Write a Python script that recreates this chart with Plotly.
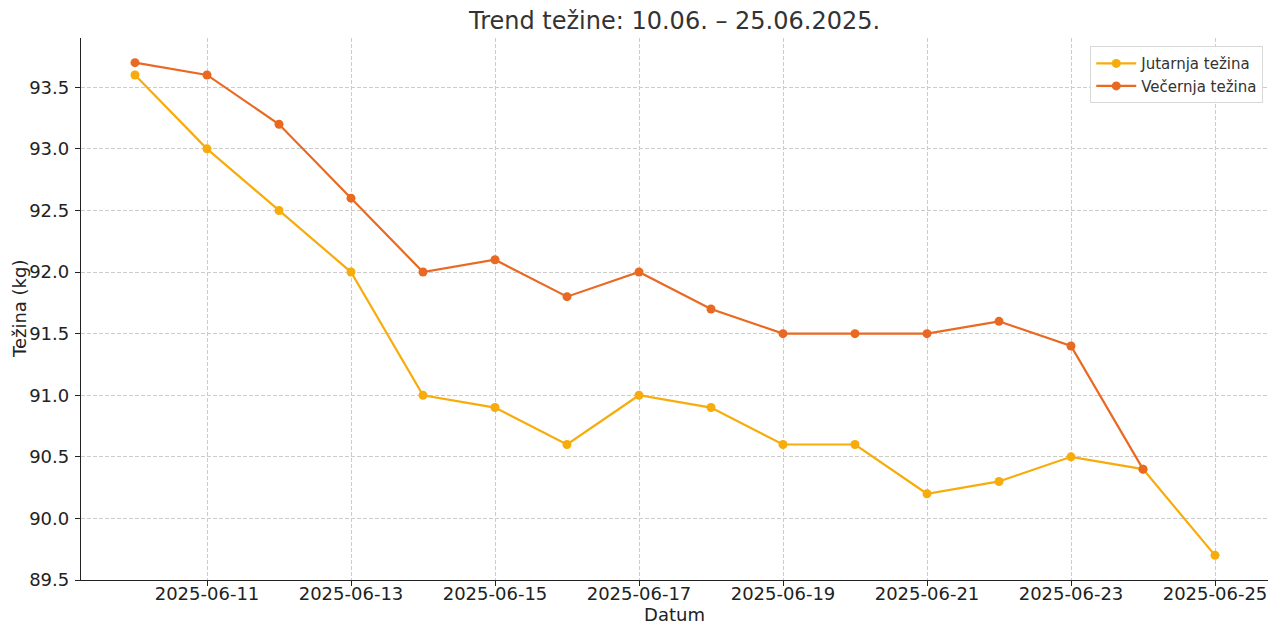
import plotly.graph_objects as go

dates = ["2025-06-10", "2025-06-11", "2025-06-12", "2025-06-13", "2025-06-14", "2025-06-15",
         "2025-06-16", "2025-06-17", "2025-06-18", "2025-06-19", "2025-06-20", "2025-06-21",
         "2025-06-22", "2025-06-23", "2025-06-24", "2025-06-25"]
jutarnja = [93.6, 93.0, 92.5, 92.0, 91.0, 90.9, 90.6, 91.0, 90.9, 90.6, 90.6, 90.2, 90.3, 90.5, 90.4, 89.7]
vecernja = [93.7, 93.6, 93.2, 92.6, 92.0, 92.1, 91.8, 92.0, 91.7, 91.5, 91.5, 91.5, 91.6, 91.4, 90.4, None]
x_ticks = ["2025-06-11", "2025-06-13", "2025-06-15", "2025-06-17", "2025-06-19", "2025-06-21", "2025-06-23", "2025-06-25"]
y_ticks = [89.5, 90.0, 90.5, 91.0, 91.5, 92.0, 92.5, 93.0, 93.5]

C_J = "#F7AC0B"
C_V = "#EA6922"
FONT = "DejaVu Sans"

fig = go.Figure()
fig.add_trace(go.Scatter(x=dates, y=jutarnja, mode="lines+markers", name="Jutarnja težina",
                         line=dict(color=C_J, width=2.2), marker=dict(color=C_J, size=9)))
fig.add_trace(go.Scatter(x=dates, y=vecernja, mode="lines+markers", name="Večernja težina",
                         line=dict(color=C_V, width=2.2), marker=dict(color=C_V, size=9)))

fig.update_layout(
    width=1280, height=638,
    margin=dict(l=81, r=12, t=38, b=58),
    plot_bgcolor="white", paper_bgcolor="white",
    font=dict(family=FONT, color="#222222"),
    title=dict(text="Trend težine: 10.06. – 25.06.2025.", x=0.527, xanchor="center", y=0.968, yanchor="middle",
               font=dict(size=24, family=FONT, color="#333333")),
    legend=dict(x=0.996, xanchor="right", y=0.985, yanchor="top", bgcolor="rgba(255,255,255,0.9)",
                bordercolor="#d8d8d8", borderwidth=1, font=dict(size=15, family=FONT, color="#333333"),
                tracegroupgap=0, itemwidth=40),
    xaxis=dict(
        title=dict(text="Datum", font=dict(size=18, family=FONT), standoff=4),
        range=["2025-06-09 06:00", "2025-06-25 17:40"],
        tickvals=x_ticks, ticktext=x_ticks,
        tickfont=dict(size=18, family=FONT, color="#222222"),
        ticklabelstandoff=-8,
        showgrid=True, gridcolor="#cccccc", griddash="4px,2px", gridwidth=1,
        showline=True, linecolor="#222222", linewidth=1.3,
        ticks="outside", ticklen=5, tickcolor="#222222",
        zeroline=False, automargin=False,
    ),
    yaxis=dict(
        range=[89.5, 93.9],
        tickvals=y_ticks, ticktext=[f"{v:.1f}" for v in y_ticks],
        tickfont=dict(size=18, family=FONT, color="#222222"),
        ticklabelstandoff=2,
        showgrid=True, gridcolor="#cccccc", griddash="4px,2px", gridwidth=1,
        showline=True, linecolor="#222222", linewidth=1.3,
        ticks="outside", ticklen=5, tickcolor="#222222",
        zeroline=False, automargin=False,
    ),
)
fig.add_annotation(text="Težina (kg)", xref="paper", yref="paper", x=-0.0522, y=0.5,
                   xanchor="center", yanchor="middle", textangle=-90, showarrow=False,
                   font=dict(size=18, family=FONT, color="#222222"))

fig.write_html("out.html", config={"displayModeBar": False},
               post_script="document.body.style.margin='0';")
